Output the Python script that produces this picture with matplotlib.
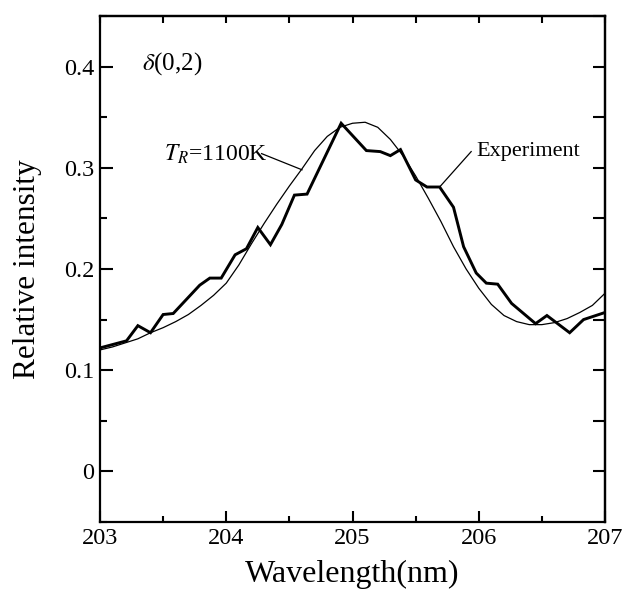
import numpy as np
import matplotlib
matplotlib.use("Agg")
import matplotlib.pyplot as plt
from matplotlib.ticker import MultipleLocator

plt.rcParams['font.family'] = ['Liberation Serif', 'DejaVu Serif']
plt.rcParams['mathtext.fontset'] = 'stix'

# Experiment (thick line)
exp_x = [203.00, 203.21, 203.30, 203.40, 203.50, 203.58, 203.79, 203.87, 203.96,
         204.07, 204.16, 204.25, 204.35, 204.44, 204.54, 204.64, 204.91, 205.11,
         205.22, 205.30, 205.38, 205.50, 205.59, 205.69, 205.80, 205.88, 205.98,
         206.06, 206.15, 206.26, 206.45, 206.54, 206.72, 206.83, 207.00]
exp_y = [0.122, 0.129, 0.144, 0.137, 0.155, 0.156, 0.184, 0.191, 0.191,
         0.214, 0.220, 0.241, 0.224, 0.244, 0.273, 0.274, 0.344, 0.317,
         0.316, 0.312, 0.318, 0.288, 0.281, 0.281, 0.261, 0.222, 0.196,
         0.186, 0.185, 0.166, 0.146, 0.154, 0.137, 0.150, 0.157]

# Calculated spectrum, T_R = 1100 K (thin line)
calc_x = [203.0, 203.1, 203.2, 203.3, 203.4, 203.5, 203.6, 203.7, 203.8, 203.9,
          204.0, 204.1, 204.2, 204.3, 204.4, 204.5, 204.6, 204.7, 204.8, 204.9,
          205.0, 205.1, 205.2, 205.3, 205.4, 205.5, 205.6, 205.7, 205.8, 205.9,
          206.0, 206.1, 206.2, 206.3, 206.4, 206.5, 206.6, 206.7, 206.8, 206.9,
          207.0]
calc_y = [0.120, 0.123, 0.127, 0.131, 0.137, 0.142, 0.148, 0.155, 0.164, 0.174,
          0.186, 0.204, 0.225, 0.245, 0.264, 0.282, 0.299, 0.317, 0.331, 0.340,
          0.344, 0.345, 0.340, 0.328, 0.312, 0.292, 0.270, 0.247, 0.222, 0.200,
          0.181, 0.165, 0.154, 0.148, 0.145, 0.145, 0.147, 0.151, 0.157, 0.164,
          0.176]

x_ticks = [203, 204, 205, 206, 207]
y_ticks = [0, 0.1, 0.2, 0.3, 0.4]
y_labels = ['0', '0.1', '0.2', '0.3', '0.4']

fig = plt.figure(figsize=(6.25, 5.9), dpi=100)
ax = fig.add_axes([0.16, 0.1153, 0.808, 0.8576])

ax.plot(calc_x, calc_y, color='black', lw=0.9)
ax.plot(exp_x, exp_y, color='black', lw=2.1, solid_joinstyle='miter')

ax.set_xlim(203, 207)
ax.set_ylim(-0.05, 0.45)

ax.set_xticks(x_ticks)
ax.xaxis.set_minor_locator(MultipleLocator(0.5))
ax.set_yticks(y_ticks)
ax.set_yticklabels(y_labels)
ax.yaxis.set_minor_locator(MultipleLocator(0.05))

ax.tick_params(axis='both', which='both', direction='in', width=1.5,
               top=False, right=False, labelsize=17.5, pad=4)
ax.tick_params(axis='x', which='major', length=8)
ax.tick_params(axis='x', which='minor', length=4.5)
ax.tick_params(axis='y', which='major', length=9.5)
ax.tick_params(axis='y', which='minor', length=5)

for s in ax.spines.values():
    s.set_linewidth(1.6)

sec_top = ax.secondary_xaxis('top')
sec_top.set_xticks(list(np.arange(203, 207.01, 0.5)))
sec_top.tick_params(direction='in', length=5, width=1.5, labeltop=False)
sec_top.spines['top'].set_linewidth(1.6)

sec_right = ax.secondary_yaxis('right')
sec_right.set_yticks(list(np.arange(0, 0.451, 0.05)))
sec_right.tick_params(direction='in', length=8.5, width=1.5, labelright=False)
sec_right.spines['right'].set_linewidth(1.6)

ax.set_xlabel('Wavelength(nm)', fontsize=23, labelpad=8)
ax.set_ylabel('Relative intensity', fontsize=22.5, labelpad=16)

ax.text(203.33, 0.403, r'$\delta$(0,2)', fontsize=18, ha='left', va='center')

ax.text(203.51, 0.313, r'$T_{R}$=1100K', fontsize=17, ha='left', va='center')
ax.plot([204.28, 204.6], [0.314, 0.298], color='black', lw=0.9)

ax.text(205.98, 0.316, 'Experiment', fontsize=16, ha='left', va='center')
ax.plot([205.94, 205.69], [0.316, 0.281], color='black', lw=0.9)

fig.savefig('out.png', dpi=100)
